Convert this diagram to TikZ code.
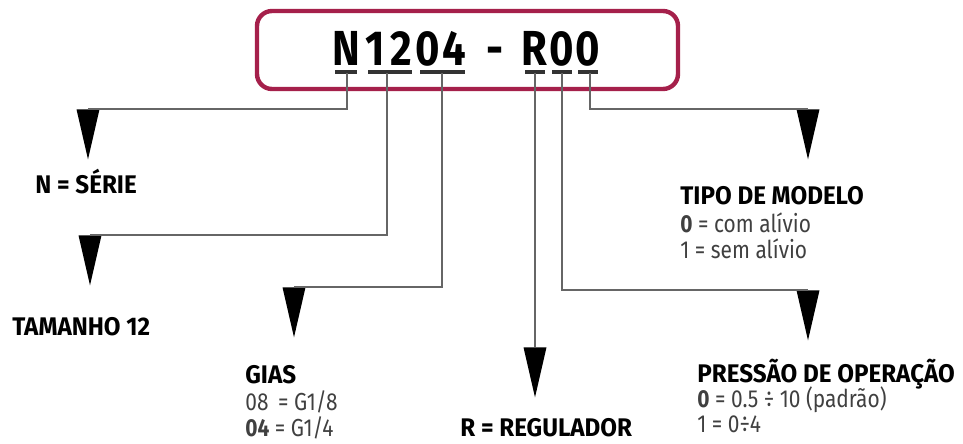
\documentclass[tikz,border=0pt]{standalone}
\usepackage{fontspec}
\setmainfont{Fira Sans}
\newfontfamily\condfont[FakeStretch=0.85]{Fira Sans}
\newfontfamily\headfont[FakeStretch=0.95]{Fira Sans}
\usetikzlibrary{shapes.geometric,positioning}
\definecolor{framered}{RGB}{165,32,75}
\tikzstyle{code} = [
    font=\condfont\bfseries\fontsize{28}{30}\selectfont,
    inner sep=0pt,
    anchor=base
]
\tikzstyle{uline} = [
    line width=2pt,
    draw=black!80
]
\tikzstyle{wire} = [
    draw=black!60,
    line width=1pt
]
\tikzstyle{pointer} = [
    isosceles triangle,
    shape border rotate=270,
    isosceles triangle stretches,
    fill=black,
    inner sep=0pt,
    minimum width=0.46cm,
    minimum height=1cm,
    anchor=north
]
\tikzstyle{head} = [
    font=\headfont\bfseries\fontsize{14.5}{16}\selectfont,
    inner sep=0pt,
    anchor=base west
]
\tikzstyle{opt} = [
    font=\condfont\fontsize{14}{16}\selectfont,
    text=black!75,
    inner sep=0pt,
    anchor=base west
]

\begin{document}
\begin{tikzpicture}[x=0.02cm, y=-0.02cm]
        \useasboundingbox (0,0) rectangle (963,443);

        % Frame
        \draw[framered, line width=2.5pt, rounded corners=0.3cm] (257,11) rectangle (678,89);

        % Code
        \node[code] (cN) at (346,65) {N};
        \node[code] (c1) at (375,65) {1};
        \node[code] (c2) at (401,65) {2};
        \node[code] (c0) at (428,65) {0};
        \node[code] (c4) at (454,65) {4};
        \node[code] (cD) at (495,65) {-};
        \node[code] (cR) at (534,65) {R};
        \node[code] (cP) at (562,65) {0};
        \node[code] (cM) at (588,65) {0};

        % Underlines
        \draw[uline] (335,72) -- (357,72);
        \draw[uline] (368,72) -- (412,72);
        \draw[uline] (420,72) -- (465,72);
        \draw[uline] (525,72) -- (545,72);
        \draw[uline] (552,72) -- (572,72);
        \draw[uline] (578,72) -- (598,72);
        \coordinate (uN) at (347,73);
        \coordinate (uT) at (387,73);
        \coordinate (uG) at (442,73);
        \coordinate (uR) at (535,73);
        \coordinate (uP) at (562,73);
        \coordinate (uM) at (590,73);

        % Pointers
        \node[pointer] (tN) at (88,109) {};
        \node[pointer] (tT) at (90,235) {};
        \node[pointer] (tG) at (294,287) {};
        \node[pointer] (tR) at (535,347) {};
        \node[pointer] (tP) at (808,290) {};
        \node[pointer] (tM) at (808,109) {};

        % Wires
        \draw[wire] (uN) |- (tN.north);
        \draw[wire] (uT) |- (tT.north);
        \draw[wire] (uG) |- (tG.north);
        \draw[wire] (uR) -- (tR.north);
        \draw[wire] (uP) |- (tP.north);
        \draw[wire] (uM) |- (tM.north);

        % Labels
        \node[head] (lN) at (35,193) {N = SÉRIE};
        \node[head] (lT) at (12,335) {TAMANHO 12};
        \node[head] (lG) at (245,383) {GIAS};
        \node[opt] (lG1) at (245,410) {08 \,= G1/8};
        \node[opt] (lG2) at (245,436) {\textbf{04} = G1/4};
        \node[head] (lR) at (460,436) {R = REGULADOR};
        \node[head] (lP) at (697,382) {PRESSÃO DE OPERAÇÃO};
        \node[opt] (lP1) at (697,407) {\textbf{0} = 0.5 ÷ 10 (padrão)};
        \node[opt] (lP2) at (697,432) {1 = 0÷4};
        \node[head] (lM) at (680,204) {TIPO DE MODELO};
        \node[opt] (lM1) at (680,232) {\textbf{0} = com alívio};
        \node[opt] (lM2) at (680,258) {1 = sem alívio};
\end{tikzpicture}
\end{document}
